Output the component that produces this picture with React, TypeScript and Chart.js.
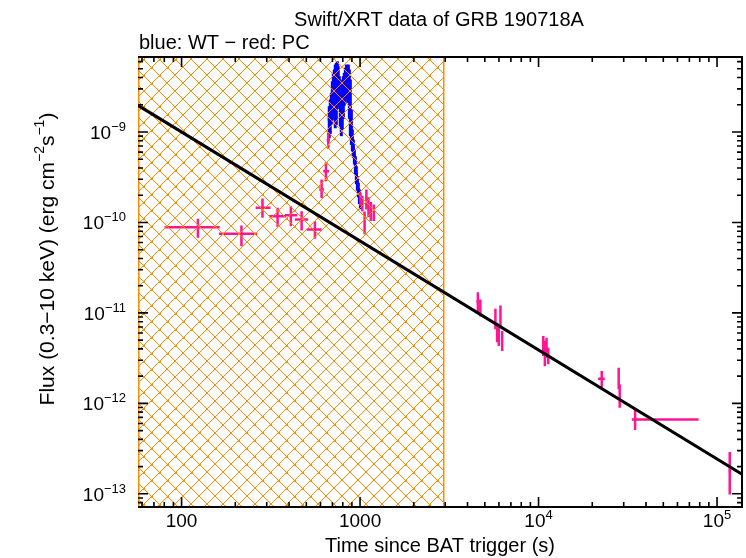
import React, { useEffect, useRef } from "react";
import { Chart, registerables } from "chart.js";

Chart.register(...registerables);

const FONT = '"Liberation Sans", Arial, Helvetica, sans-serif';

const TITLE = "Swift/XRT data of GRB 190718A";
const SUBTITLE = "blue: WT \u2212 red: PC";
const X_TITLE = "Time since BAT trigger (s)";
const Y_TITLE_PARTS: [string, boolean][] = [
  ["Flux (0.3\u221210 keV) (erg cm", false],
  ["\u22122", true],
  ["s", false],
  ["\u22121", true],
  [")", false],
];

const X_MIN = 57;
const X_MAX = 1.38e5;
const Y_MIN = 7.15e-14;
const Y_MAX = 6.75e-9;

const X_TICKS = [100, 1000, 1e4, 1e5];
const X_TICK_BASE = ["100", "1000", "10", "10"];
const X_TICK_EXP = ["", "", "4", "5"];
const Y_TICKS = [1e-9, 1e-10, 1e-11, 1e-12, 1e-13];
const Y_TICK_BASE = ["10", "10", "10", "10", "10"];
const Y_TICK_EXP = ["\u22129", "\u221210", "\u221211", "\u221212", "\u221213"];

const HATCH_END = 2930;

const WT_COLOR = "#0000ff";
const PC_COLOR = "#ff1493";
const HATCH_COLOR = "#ff8c00";

// WT mode (blue)
const wtTime = [672, 681, 690, 699, 708, 717, 726, 736, 746, 755, 765, 775, 785, 795, 806, 816, 827, 838, 849, 860, 871, 882, 894, 905, 917, 929, 941, 953, 966, 978, 991, 1004];
const wtFlux = [1.38e-9, 1.57e-9, 1.93e-9, 2.34e-9, 2.83e-9, 2.71e-9, 2.54e-9, 2.71e-9, 3.42e-9, 3.64e-9, 2.95e-9, 2.19e-9, 1.85e-9, 2.05e-9, 2.49e-9, 3.08e-9, 3.42e-9, 3.72e-9, 3.97e-9, 3.57e-9, 2.71e-9, 1.93e-9, 1.16e-9, 8.3e-10, 6.7e-10, 5.4e-10, 4.4e-10, 3.4e-10, 2.75e-10, 2.3e-10, 1.95e-10, 1.68e-10];
const wtFluxLo = [8.5e-10, 9.5e-10, 1.2e-9, 1.35e-9, 1.6e-9, 1.4e-9, 1.1e-9, 1.2e-9, 1.8e-9, 2.3e-9, 1.9e-9, 1.15e-9, 9.0e-10, 1.05e-9, 1.4e-9, 1.95e-9, 2.1e-9, 2.3e-9, 2.7e-9, 2.1e-9, 1.4e-9, 9.0e-10, 7.2e-10, 6.1e-10, 5.2e-10, 4.4e-10, 3.4e-10, 2.65e-10, 2.25e-10, 1.9e-10, 1.6e-10, 1.4e-10];
const wtFluxHi = [1.93e-9, 2.29e-9, 2.71e-9, 3.64e-9, 4.51e-9, 4.91e-9, 5.57e-9, 5.82e-9, 6.05e-9, 5.33e-9, 4.14e-9, 3.8e-9, 3.5e-9, 3.64e-9, 4.14e-9, 4.51e-9, 5.12e-9, 5.57e-9, 5.33e-9, 5.57e-9, 4.91e-9, 3.8e-9, 1.77e-9, 1.07e-9, 8.26e-10, 6.41e-10, 5.41e-10, 4.19e-10, 3.25e-10, 2.75e-10, 2.32e-10, 1.95e-10];

// PC mode (red)
const pcTime = [123.5, 216.5, 284, 345, 409.6, 470.5, 558.6, 609, 644, 663.6, 1005, 1030, 1060, 1085, 1115, 1150, 1195, 4571, 4721, 5733, 5860, 5985, 6117, 6252, 10627, 10849, 11090, 11336, 22594, 28120, 28490, 34750, 117800];
const pcTimeLo = [80.3, 162, 260, 309.6, 380, 431, 501.8, 590.6, 622, 650, 995, 1020, 1050, 1075, 1104, 1138, 1183, 4480, 4640, 5650, 5790, 5910, 6040, 6170, 10500, 10720, 10960, 11200, 21550, 27800, 28150, 33300, 115700];
const pcTimeHi = [163.5, 264.8, 315, 384, 444.6, 512, 609, 628, 670, 678.5, 1015, 1040, 1070, 1096, 1126, 1162, 1207, 4660, 4800, 5820, 5930, 6060, 6200, 6340, 10750, 10980, 11220, 11470, 23500, 28450, 28830, 78900, 119900];
const pcFlux = [8.87e-11, 7.5e-11, 1.45e-10, 1.17e-10, 1.205e-10, 1.08e-10, 8.37e-11, 2.32e-10, 3.69e-10, 8.11e-10, 1.8e-10, 1.62e-10, 1.05e-10, 1.79e-10, 1.5e-10, 1.32e-10, 1.26e-10, 1.34e-11, 1.16e-11, 9.0e-12, 6.3e-12, 5.54e-12, 9.8e-12, 5.0e-12, 4.3e-12, 3.95e-12, 4.3e-12, 3.48e-12, 1.87e-12, 1.95e-12, 1.2e-12, 6.65e-13, 1.79e-13];
const pcFluxLo = [6.78e-11, 5.47e-11, 1.13e-10, 8.98e-11, 9.1e-11, 8.17e-11, 6.6e-11, 1.87e-10, 2.86e-10, 6.52e-10, 1.52e-10, 1.32e-10, 7.4e-11, 1.39e-10, 1.14e-10, 1.04e-10, 1.04e-10, 1.01e-11, 9.14e-12, 6.58e-12, 4.75e-12, 4.3e-12, 6.86e-12, 3.79e-12, 3.33e-12, 2.58e-12, 3.2e-12, 2.7e-12, 1.49e-12, 1.43e-12, 8.97e-13, 5.07e-13, 9.86e-14];
const pcFluxHi = [1.1e-10, 9.27e-11, 1.84e-10, 1.45e-10, 1.51e-10, 1.33e-10, 1.03e-10, 2.99e-10, 4.64e-10, 9.8e-10, 2.15e-10, 1.98e-10, 1.32e-10, 2.32e-10, 1.9e-10, 1.68e-10, 1.58e-10, 1.69e-11, 1.41e-11, 1.11e-11, 7.8e-12, 6.92e-12, 1.21e-11, 6.3e-12, 5.54e-12, 4.89e-12, 5.32e-12, 4.12e-12, 2.28e-12, 2.48e-12, 1.62e-12, 8.59e-13, 2.9e-13];

// power-law model line
const modelTime = [57, 1.38e5];
const modelFlux = [1.97e-9, 1.65e-13];

function minorTicks(min: number, max: number): number[] {
  const out: number[] = [];
  const d0 = Math.floor(Math.log10(min));
  const d1 = Math.ceil(Math.log10(max));
  for (let d = d0; d <= d1; d++) {
    for (let m = 2; m <= 9; m++) {
      const v = m * Math.pow(10, d);
      if (v >= min && v <= max) out.push(v);
    }
  }
  return out;
}

const drawPlugin = {
  id: "xrtDecor",
  beforeDatasetsDraw(chart: any) {
    const { ctx, chartArea: ca, scales } = chart;
    const xs = scales.x;
    const ys = scales.y;
    ctx.save();
    ctx.beginPath();
    ctx.rect(ca.left, ca.top, ca.right - ca.left, ca.bottom - ca.top);
    ctx.clip();
    ctx.lineCap = "butt";

    // WT error bars
    ctx.strokeStyle = WT_COLOR;
    ctx.lineWidth = 3;
    for (let i = 0; i < wtTime.length; i++) {
      const x = xs.getPixelForValue(wtTime[i]);
      ctx.beginPath();
      ctx.moveTo(x, ys.getPixelForValue(wtFluxLo[i]));
      ctx.lineTo(x, ys.getPixelForValue(wtFluxHi[i]));
      ctx.stroke();
      const y = ys.getPixelForValue(wtFlux[i]);
      ctx.beginPath();
      ctx.moveTo(x - 1.5, y);
      ctx.lineTo(x + 1.5, y);
      ctx.stroke();
    }

    // PC error bars
    ctx.strokeStyle = PC_COLOR;
    ctx.lineWidth = 2.5;
    for (let i = 0; i < pcTime.length; i++) {
      const x = xs.getPixelForValue(pcTime[i]);
      const y = ys.getPixelForValue(pcFlux[i]);
      ctx.beginPath();
      ctx.moveTo(x, ys.getPixelForValue(pcFluxLo[i]));
      ctx.lineTo(x, ys.getPixelForValue(pcFluxHi[i]));
      ctx.moveTo(xs.getPixelForValue(pcTimeLo[i]), y);
      ctx.lineTo(xs.getPixelForValue(pcTimeHi[i]), y);
      ctx.stroke();
    }
    ctx.restore();

    // hatched region: crisp 1px diagonal lines
    const hx = Math.round(xs.getPixelForValue(HATCH_END));
    const L = Math.round(ca.left);
    const T = Math.round(ca.top);
    const B = Math.round(ca.bottom);
    ctx.save();
    ctx.fillStyle = HATCH_COLOR;
    const P = 15.89;
    const aList: number[] = [];
    const bList: number[] = [];
    for (let k = -60; k < 120; k++) {
      aList.push(Math.round(-154 + k * P));
      bList.push(Math.round(456 + (k - 40) * P));
    }
    for (let x = L; x < hx; x++) {
      for (const a of aList) {
        const y = x - a;
        if (y >= T && y < B) ctx.fillRect(x, y, 1, 1);
      }
      for (const b of bList) {
        const y = b - x;
        if (y >= T && y < B) ctx.fillRect(x, y, 1, 1);
      }
    }
    // intersection dots
    for (const a of aList) {
      for (const b of bList) {
        if ((a + b) % 2 !== 0) continue;
        const x = (a + b) / 2;
        const y = (b - a) / 2;
        if (x >= L && x < hx - 1 && y >= T && y < B - 1) ctx.fillRect(x, y, 2, 2);
      }
    }
    // region border
    ctx.fillRect(hx, T, 1.5, B - T);
    ctx.fillRect(L, T, 1.5, B - T);
    ctx.restore();
  },
  afterDraw(chart: any) {
    const { ctx, chartArea: ca, scales } = chart;
    const xs = scales.x;
    const ys = scales.y;
    ctx.save();

    // frame (left edge shows the orange region border)
    ctx.strokeStyle = "#000";
    ctx.lineWidth = 2;
    ctx.beginPath();
    ctx.moveTo(ca.left, ca.top);
    ctx.lineTo(ca.right, ca.top);
    ctx.lineTo(ca.right, ca.bottom);
    ctx.lineTo(ca.left, ca.bottom);
    ctx.stroke();

    // ticks
    ctx.lineWidth = 1.6;
    ctx.beginPath();
    const MAJ = 10;
    const MIN = 5;
    for (const v of X_TICKS) {
      const x = xs.getPixelForValue(v);
      ctx.moveTo(x, ca.bottom);
      ctx.lineTo(x, ca.bottom - MAJ);
      ctx.moveTo(x, ca.top);
      ctx.lineTo(x, ca.top + MAJ);
    }
    for (const v of minorTicks(X_MIN, X_MAX)) {
      const x = xs.getPixelForValue(v);
      ctx.moveTo(x, ca.bottom);
      ctx.lineTo(x, ca.bottom - MIN);
      ctx.moveTo(x, ca.top);
      ctx.lineTo(x, ca.top + MIN);
    }
    for (const v of Y_TICKS) {
      const y = ys.getPixelForValue(v);
      ctx.moveTo(ca.left, y);
      ctx.lineTo(ca.left + MAJ, y);
      ctx.moveTo(ca.right, y);
      ctx.lineTo(ca.right - MAJ, y);
    }
    for (const v of minorTicks(Y_MIN, Y_MAX)) {
      const y = ys.getPixelForValue(v);
      ctx.moveTo(ca.left, y);
      ctx.lineTo(ca.left + MIN, y);
      ctx.moveTo(ca.right, y);
      ctx.lineTo(ca.right - MIN, y);
    }
    ctx.stroke();

    // tick labels
    ctx.fillStyle = "#000";
    ctx.textBaseline = "alphabetic";
    ctx.textAlign = "left";
    const big = `19px ${FONT}`;
    const sup = `13px ${FONT}`;
    for (let i = 0; i < X_TICKS.length; i++) {
      const x = xs.getPixelForValue(X_TICKS[i]);
      ctx.font = big;
      const wb = ctx.measureText(X_TICK_BASE[i]).width;
      ctx.font = sup;
      const we = X_TICK_EXP[i] ? ctx.measureText(X_TICK_EXP[i]).width : 0;
      const x0 = x - (wb + we) / 2;
      ctx.font = big;
      ctx.fillText(X_TICK_BASE[i], x0, 527);
      if (X_TICK_EXP[i]) {
        ctx.font = sup;
        ctx.fillText(X_TICK_EXP[i], x0 + wb, 519);
      }
    }
    for (let i = 0; i < Y_TICKS.length; i++) {
      const y = ys.getPixelForValue(Y_TICKS[i]);
      ctx.font = big;
      const wb = ctx.measureText(Y_TICK_BASE[i]).width;
      ctx.font = sup;
      const we = ctx.measureText(Y_TICK_EXP[i]).width;
      const x0 = 126 - wb - we;
      ctx.font = big;
      ctx.fillText(Y_TICK_BASE[i], x0, y + 7);
      ctx.font = sup;
      ctx.fillText(Y_TICK_EXP[i], x0 + wb, y - 1);
    }

    // titles
    ctx.font = `20px ${FONT}`;
    ctx.textAlign = "center";
    ctx.fillText(TITLE, 439, 26);
    ctx.textAlign = "left";
    ctx.fillText(SUBTITLE, 139, 49);
    ctx.textAlign = "center";
    ctx.fillText(X_TITLE, 440, 552);

    // y title (rotated, with superscripts)
    const yBig = `21px ${FONT}`;
    const ySup = `14px ${FONT}`;
    let total = 0;
    for (const [t, s] of Y_TITLE_PARTS) {
      ctx.font = s ? ySup : yBig;
      total += ctx.measureText(t).width;
    }
    ctx.save();
    ctx.translate(46, 259);
    ctx.rotate(-Math.PI / 2);
    ctx.textAlign = "left";
    let px = -total / 2;
    for (const [t, s] of Y_TITLE_PARTS) {
      ctx.font = s ? ySup : yBig;
      ctx.fillText(t, px, s ? -2 : 8);
      px += ctx.measureText(t).width;
    }
    ctx.restore();

    ctx.restore();
  },
};

export default function App() {
  const canvasRef = useRef<HTMLCanvasElement | null>(null);

  useEffect(() => {
    const canvas = canvasRef.current;
    if (!canvas) return;
    const chart = new Chart(canvas, {
      type: "scatter",
      data: {
        datasets: [
          {
            label: "WT",
            data: wtTime.map((t, i) => ({ x: t, y: wtFlux[i] })),
            pointRadius: 0,
            showLine: false,
          },
          {
            label: "PC",
            data: pcTime.map((t, i) => ({ x: t, y: pcFlux[i] })),
            pointRadius: 0,
            showLine: false,
          },
          {
            label: "model",
            type: "line",
            data: modelTime.map((t, i) => ({ x: t, y: modelFlux[i] })),
            borderColor: "#000",
            borderWidth: 3,
            pointRadius: 0,
            fill: false,
            tension: 0,
          } as any,
        ],
      },
      options: {
        responsive: false,
        maintainAspectRatio: false,
        devicePixelRatio: 1,
        animation: false,
        events: [],
        layout: { padding: { left: 138, top: 57, right: 4, bottom: 51 } },
        scales: {
          x: { type: "logarithmic", min: X_MIN, max: X_MAX, display: false },
          y: { type: "logarithmic", min: Y_MIN, max: Y_MAX, display: false },
        },
        plugins: {
          legend: { display: false },
          tooltip: { enabled: false },
          title: { display: false },
        },
      },
      plugins: [drawPlugin],
    });
    return () => chart.destroy();
  }, []);

  return (
    <div style={{ position: "absolute", left: 0, top: 0, width: 746, height: 558, background: "#fff" }}>
      <canvas ref={canvasRef} width={746} height={558} style={{ display: "block", width: 746, height: 558 }} />
    </div>
  );
}
